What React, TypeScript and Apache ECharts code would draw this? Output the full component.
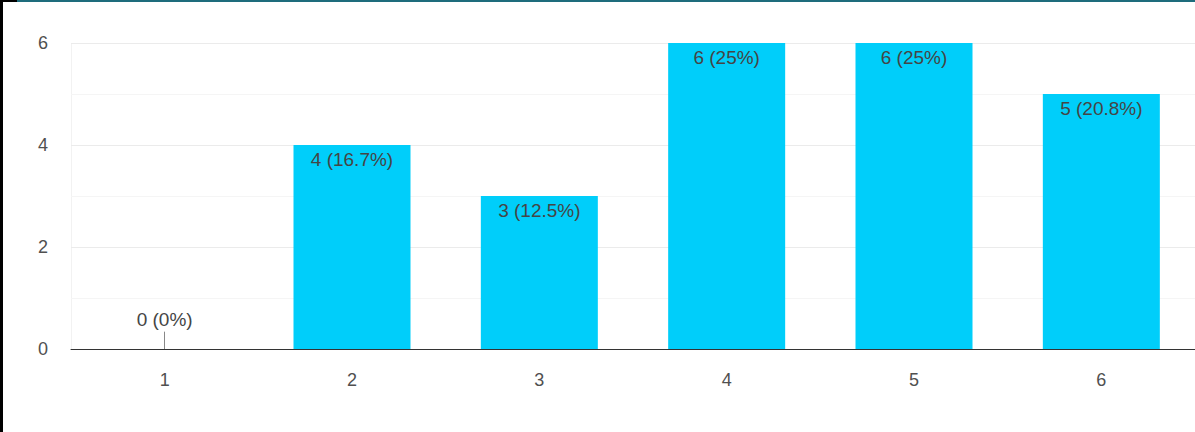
import React, { useEffect, useRef } from "react";
import * as echarts from "echarts";

const categories = ["1", "2", "3", "4", "5", "6"];
const counts = [0, 4, 3, 6, 6, 5];
const percents = ["0%", "16.7%", "12.5%", "25%", "25%", "20.8%"];
const yTicks = [0, 2, 4, 6];

const FONT = "Liberation Sans, Arial, sans-serif";

export default function App() {
  const ref = useRef<HTMLDivElement>(null);
  useEffect(() => {
    if (!ref.current) return;
    const chart = echarts.init(ref.current, undefined, { renderer: "svg" });
    const data = counts.map((v) => ({
      value: v,
      label:
        v === 0
          ? { show: true, position: "top", distance: 20 }
          : { show: true, position: "insideTop", distance: 5 },
    }));
    chart.setOption({
      animation: false,
      backgroundColor: "#ffffff",
      grid: { left: 71, right: 0, top: 43, bottom: 83, containLabel: false },
      xAxis: {
        type: "category",
        data: categories,
        axisLine: { show: true, lineStyle: { color: "#333333", width: 1 } },
        axisTick: { show: false },
        axisLabel: { color: "#505050", fontSize: 18, margin: 22, fontFamily: FONT },
        splitLine: { show: false },
      },
      yAxis: {
        type: "value",
        min: yTicks[0],
        max: yTicks[yTicks.length - 1],
        interval: 2,
        axisLine: { show: false },
        axisTick: { show: false },
        axisLabel: { color: "#505050", fontSize: 18, margin: 23, fontFamily: FONT },
        splitLine: { show: true, lineStyle: { color: "#ebebeb", width: 1 } },
        minorTick: { show: false, splitNumber: 2 },
        minorSplitLine: { show: true, lineStyle: { color: "#f5f5f5", width: 1 } },
      },
      series: [
        {
          type: "bar",
          data,
          barWidth: 117,
          itemStyle: { color: "#00cefa" },
          label: {
            color: "#454545",
            fontSize: 19,
            fontFamily: FONT,
            formatter: (p: any) => `${counts[p.dataIndex]} (${percents[p.dataIndex]})`,
          },
          markLine: {
            silent: true,
            symbol: "none",
            label: { show: false },
            lineStyle: { color: "#888888", type: "solid", width: 1 },
            data: counts
              .map((v, i) => (v === 0 ? [{ coord: [categories[i], 0] }, { coord: [categories[i], 0.34] }] : null))
              .filter((d) => d !== null),
          },
        },
      ],
      graphic: [
        { type: "rect", shape: { x: 71, y: 43, width: 1, height: 306 }, style: { fill: "#f2f2f2" }, z: -1 },
        { type: "rect", shape: { x: 0, y: 0, width: 1195, height: 2 }, style: { fill: "#1e6c7c" }, z: 100 },
        { type: "rect", shape: { x: 0, y: 0, width: 17, height: 2 }, style: { fill: "#000000" }, z: 101 },
        { type: "rect", shape: { x: 0, y: 0, width: 3, height: 432 }, style: { fill: "#000000" }, z: 101 },
      ],
    });
    return () => chart.dispose();
  }, []);
  return (
    <div style={{ position: "fixed", left: 0, top: 0, width: 1195, height: 432 }}>
      <div ref={ref} style={{ width: 1195, height: 432 }} />
    </div>
  );
}
